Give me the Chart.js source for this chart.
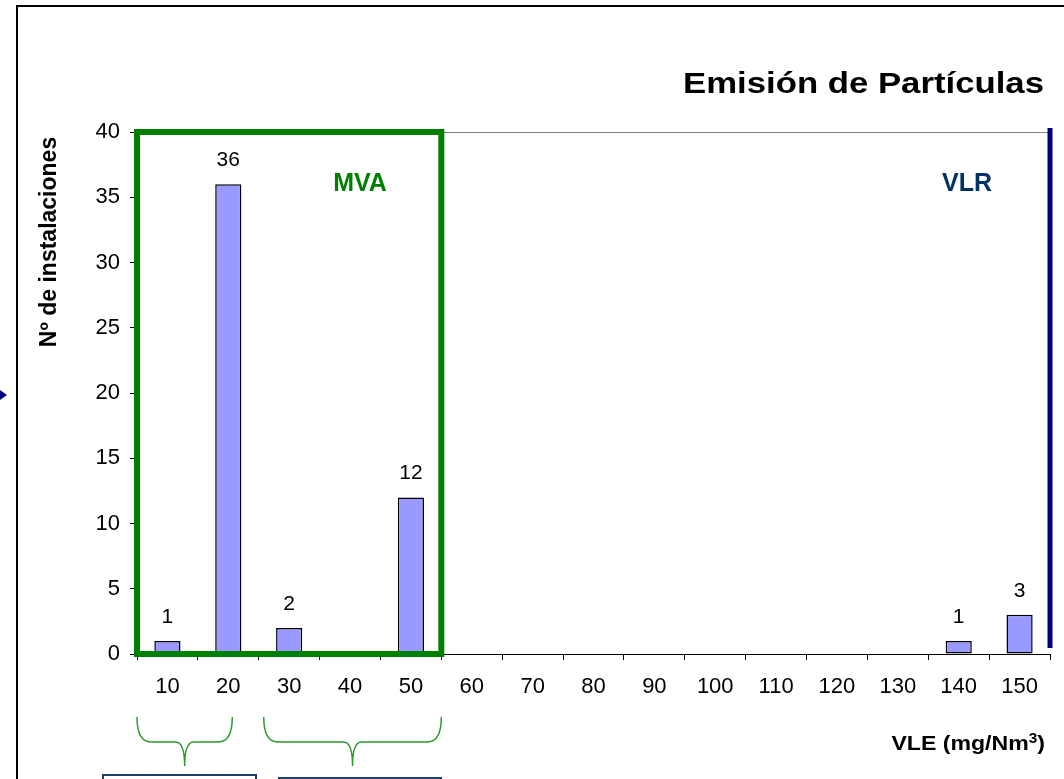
<!DOCTYPE html>
<html>
<head>
<meta charset="utf-8">
<script src="https://cdn.jsdelivr.net/npm/chart.js@4"></script>
<style>
  html, body { margin: 0; padding: 0; background: #fff; }
  #wrap { width: 1064px; height: 779px; position: relative; }
</style>
</head>
<body>
<div id="wrap"><canvas id="c" width="1064" height="779"></canvas></div>
<script>
// VLE classes (mg/Nm3) and number of installations in each
const categories = ['10', '20', '30', '40', '50', '60', '70', '80', '90', '100', '110', '120', '130', '140', '150'];
const installations = [1, 36, 2, null, 12, null, null, null, null, null, null, null, null, 1, 3];
const yMin = 0;
const yMax = 40;
const yStep = 5;

const FONT = '"Liberation Sans", Arial, sans-serif';

// draw text squeezed/stretched horizontally so it ends at xRight
function textRight(c, str, xRight, y, sx) {
  c.save();
  c.translate(xRight, y);
  c.scale(sx, 1);
  c.textAlign = 'right';
  c.fillText(str, 0, 0);
  c.restore();
}

// ── value labels above bars ────────────────────────────────────────────
const valueLabels = {
  id: 'valueLabels',
  afterDatasetsDraw(chart) {
    const c = chart.ctx;
    const meta = chart.getDatasetMeta(0);
    c.save();
    c.font = '21px ' + FONT;
    c.fillStyle = '#000';
    c.textAlign = 'center';
    c.textBaseline = 'alphabetic';
    meta.data.forEach((bar, i) => {
      const v = installations[i];
      if (v == null) return;
      c.fillText(String(v), bar.x, bar.y - 18);
    });
    c.restore();
  }
};

// ── annotations: MVA box, VLR line, braces, titles, frame ──────────────
const decorations = {
  id: 'decorations',
  afterDraw(chart) {
    const c = chart.ctx;
    const { left, right, top, bottom } = chart.chartArea;
    const xs = chart.scales.x;
    const ys = chart.scales.y;
    const half = (xs.getPixelForValue(1) - xs.getPixelForValue(0)) / 2;
    c.save();

    // outer frame (top + left)
    c.strokeStyle = '#000';
    c.lineWidth = 2;
    c.beginPath();
    c.moveTo(17, 779); c.lineTo(17, 6); c.lineTo(1064, 6);
    c.stroke();

    // small arrow head on the left edge
    c.fillStyle = '#000080';
    c.beginPath();
    c.moveTo(0, 390); c.lineTo(7, 395); c.lineTo(0, 400);
    c.closePath(); c.fill();

    // MVA box, classes 10..50
    const boxR = xs.getPixelForValue(4) + half;
    c.strokeStyle = '#008000';
    c.lineWidth = 6;
    c.strokeRect(left, ys.getPixelForValue(yMax), boxR - left, ys.getPixelForValue(yMin) - ys.getPixelForValue(yMax));

    // VLR limit line at the right edge
    c.strokeStyle = '#000080';
    c.lineWidth = 5;
    c.beginPath();
    c.moveTo(right, top - 4);
    c.lineTo(right, bottom - 6);
    c.stroke();

    // MVA / VLR labels
    c.textAlign = 'center';
    c.textBaseline = 'middle';
    c.font = 'bold 25px ' + FONT;
    c.fillStyle = '#008000';
    c.fillText('MVA', 360, 184);
    c.fillStyle = '#003366';
    c.fillText('VLR', 967, 184);

    // title
    c.font = 'bold 30px ' + FONT;
    c.fillStyle = '#000';
    c.textBaseline = 'alphabetic';
    const tw = c.measureText('Emisión de Partículas').width;
    textRight(c, 'Emisión de Partículas', 1044, 93, 361 / tw);

    // y axis title
    c.save();
    c.translate(56, 242);
    c.rotate(-Math.PI / 2);
    c.font = 'bold 23px ' + FONT;
    c.textAlign = 'center';
    c.fillText('Nº de instalaciones', 0, 0);
    c.restore();

    // x axis title with superscript, stretched slightly
    const sx = 1.1;
    c.save();
    c.translate(1045, 750);
    c.scale(sx, 1);
    c.textAlign = 'left';
    c.font = 'bold 21px ' + FONT;
    const part1 = 'VLE (mg/Nm';
    const part3 = ')';
    const w1 = c.measureText(part1).width;
    const w3 = c.measureText(part3).width;
    c.font = 'bold 14px ' + FONT;
    const w2 = c.measureText('3').width;
    const x0 = -(w1 + w2 + w3);
    c.font = 'bold 21px ' + FONT;
    c.fillText(part1, x0, 0);
    c.fillText(part3, x0 + w1 + w2, 0);
    c.font = 'bold 14px ' + FONT;
    c.fillText('3', x0 + w1, -7);
    c.restore();

    // braces below the axis
    const braceTop = 717, braceMid = 742, braceBot = 766;
    function brace(L, R) {
      const T = (L + R) / 2;
      c.beginPath();
      c.moveTo(L, braceTop);
      c.quadraticCurveTo(L, braceMid, L + 14, braceMid);
      c.lineTo(T - 9, braceMid);
      c.quadraticCurveTo(T, braceMid, T, braceBot);
      c.moveTo(R, braceTop);
      c.quadraticCurveTo(R, braceMid, R - 14, braceMid);
      c.lineTo(T + 9, braceMid);
      c.quadraticCurveTo(T, braceMid, T, braceBot);
      c.stroke();
    }
    c.strokeStyle = '#2E9A2E';
    c.lineWidth = 1.5;
    brace(left, xs.getPixelForValue(1) + 4);
    brace(xs.getPixelForValue(1) + half + 5, boxR);

    // boxes (cut by the bottom edge)
    c.strokeStyle = '#1F3F6A';
    c.lineWidth = 2;
    c.strokeRect(103, 775, 153, 20);
    c.strokeRect(279, 778, 162, 20);

    c.restore();
  }
};

new Chart(document.getElementById('c'), {
  type: 'bar',
  data: {
    labels: categories,
    datasets: [{
      data: installations,
      backgroundColor: '#9999FF',
      borderColor: '#000',
      borderWidth: 1.5,
      borderSkipped: false,
      categoryPercentage: 1,
      barPercentage: 0.43
    }]
  },
  options: {
    responsive: false,
    animation: false,
    layout: { padding: { top: 132, right: 14, left: 0, bottom: 0 } },
    plugins: {
      legend: { display: false },
      title: { display: false },
      tooltip: { enabled: false }
    },
    scales: {
      x: {
        offset: true,
        afterFit: s => { s.height = 125; },
        grid: { offset: true, drawOnChartArea: false, tickLength: 6, tickColor: '#000' },
        border: { color: '#000', width: 1 },
        ticks: { color: '#000', font: { family: FONT, size: 22 }, padding: 14, maxRotation: 0, autoSkip: false }
      },
      y: {
        min: yMin,
        max: yMax,
        afterFit: s => { s.width = 137; },
        grid: {
          drawOnChartArea: true,
          color: ctx => (ctx.tick && ctx.tick.value === yMax ? '#808080' : 'rgba(0,0,0,0)'),
          tickColor: '#000',
          tickLength: 7
        },
        border: { color: '#000', width: 1 },
        ticks: { stepSize: yStep, color: '#000', font: { family: FONT, size: 22 }, padding: 10 }
      }
    }
  },
  plugins: [valueLabels, decorations]
});
</script>
</body>
</html>
